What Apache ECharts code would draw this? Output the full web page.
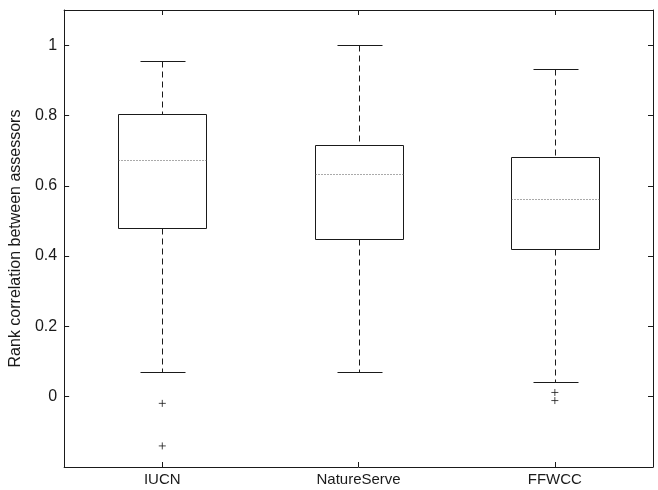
<!DOCTYPE html>
<html>
<head>
<meta charset="UTF-8">
<title>Rank correlation between assessors</title>
<script src="https://cdn.jsdelivr.net/npm/echarts@6/dist/echarts.min.js"></script>
<style>
  html, body { margin: 0; padding: 0; background: #fff; }
  #main { width: 658px; height: 490px; }
</style>
</head>
<body>
<div id="main"></div>
<script>
// assessment schemes on the x axis
var schemes = ['IUCN', 'NatureServe', 'FFWCC'];
// box statistics per scheme: lower whisker, Q1, median, Q3, upper whisker
var lowWhisker = [0.071, 0.071, 0.041];
var q1 = [0.480, 0.449, 0.421];
var median = [0.673, 0.634, 0.561];
var q3 = [0.805, 0.715, 0.682];
var highWhisker = [0.955, 1.0, 0.932];
// outliers: [scheme index, value]
var outliers = [[0, -0.019], [0, -0.140], [2, 0.012], [2, -0.011]];
// y tick labels that are shown
var yTickLabels = ['0', '0.2', '0.4', '0.6', '0.8', '1'];

var boxData = [];
for (var i = 0; i < schemes.length; i++) {
  boxData.push([i, lowWhisker[i], q1[i], median[i], q3[i], highWhisker[i]]);
}

var ink = '#1a1a1a';
var font = 'Liberation Sans';

function px(v) { return Math.round(v) + 0.5; }

function renderBox(params, api) {
  var x = api.value(0);
  var pLo = api.coord([x, api.value(1)]);
  var pQ1 = api.coord([x, api.value(2)]);
  var pMed = api.coord([x, api.value(3)]);
  var pQ3 = api.coord([x, api.value(4)]);
  var pHi = api.coord([x, api.value(5)]);
  var bandW = api.size([1, 0])[0];
  var halfBox = bandW * 0.45 / 2;
  var halfCap = halfBox / 2;
  var cx = px(pQ1[0]);
  var solid = { stroke: ink, lineWidth: 1, fill: null };
  var dashed = { stroke: ink, lineWidth: 1, lineDash: [6, 4], fill: null };
  var dotted = { stroke: '#555', lineWidth: 1, lineDash: [1, 2], fill: null };
  return {
    type: 'group',
    children: [
      { type: 'line', shape: { x1: cx, y1: px(pHi[1]), x2: cx, y2: px(pQ3[1]) }, style: dashed },
      { type: 'line', shape: { x1: cx, y1: px(pQ1[1]), x2: cx, y2: px(pLo[1]) }, style: dashed },
      { type: 'line', shape: { x1: px(cx - halfCap), y1: px(pHi[1]), x2: px(cx + halfCap), y2: px(pHi[1]) }, style: solid },
      { type: 'line', shape: { x1: px(cx - halfCap), y1: px(pLo[1]), x2: px(cx + halfCap), y2: px(pLo[1]) }, style: solid },
      { type: 'rect', shape: { x: px(cx - halfBox), y: px(pQ3[1]), width: Math.round(2 * halfBox), height: Math.round(pQ1[1] - pQ3[1]) }, style: solid },
      { type: 'line', shape: { x1: px(cx - halfBox), y1: px(pMed[1]), x2: px(cx + halfBox), y2: px(pMed[1]) }, style: dotted }
    ]
  };
}

var chart = echarts.init(document.getElementById('main'), null, { renderer: 'canvas' });

var axisLine = { show: true, onZero: false, lineStyle: { color: ink, width: 1 } };
var tickIn = { show: true, inside: true, length: 5, lineStyle: { color: ink, width: 1 } };

var option = {
  backgroundColor: '#fff',
  animation: false,
  grid: { left: 64, right: 5, top: 10, bottom: 23 },
  xAxis: [
    {
      type: 'category',
      data: schemes,
      position: 'bottom',
      boundaryGap: true,
      axisLine: axisLine,
      axisTick: { show: true, inside: true, length: 5, alignWithLabel: true, lineStyle: { color: ink } },
      axisLabel: { color: ink, fontFamily: font, fontSize: 15, margin: 5 },
      splitLine: { show: false }
    },
    {
      type: 'category',
      data: schemes,
      position: 'top',
      boundaryGap: true,
      axisLine: axisLine,
      axisTick: { show: true, inside: true, length: 5, alignWithLabel: true, lineStyle: { color: ink } },
      axisLabel: { show: false },
      splitLine: { show: false }
    }
  ],
  yAxis: [
    {
      type: 'value',
      position: 'left',
      min: -0.2,
      max: 1.1,
      interval: 0.2,
      name: 'Rank correlation between assessors',
      nameLocation: 'middle',
      nameGap: 35,
      nameTextStyle: { color: ink, fontFamily: font, fontSize: 16 },
      axisLine: axisLine,
      axisTick: tickIn,
      axisLabel: {
        color: ink, fontFamily: font, fontSize: 16, margin: 7,
        formatter: function (v) {
          var s = String(Math.round(v * 10) / 10);
          return yTickLabels.indexOf(s) >= 0 ? s : '';
        }
      },
      splitLine: { show: false }
    },
    {
      type: 'value',
      position: 'right',
      min: -0.2,
      max: 1.1,
      interval: 0.2,
      axisLine: axisLine,
      axisTick: tickIn,
      axisLabel: { show: false },
      splitLine: { show: false }
    }
  ],
  series: [
    {
      type: 'custom',
      renderItem: renderBox,
      data: boxData,
      encode: { x: 0, y: [1, 2, 3, 4, 5] },
      silent: true
    },
    {
      type: 'scatter',
      data: outliers,
      symbol: 'path://M0,5L10,5M5,0L5,10',
      symbolSize: 7,
      itemStyle: { color: 'none', borderColor: ink, borderWidth: 1 },
      silent: true
    }
  ]
};

chart.setOption(option);
</script>
</body>
</html>
